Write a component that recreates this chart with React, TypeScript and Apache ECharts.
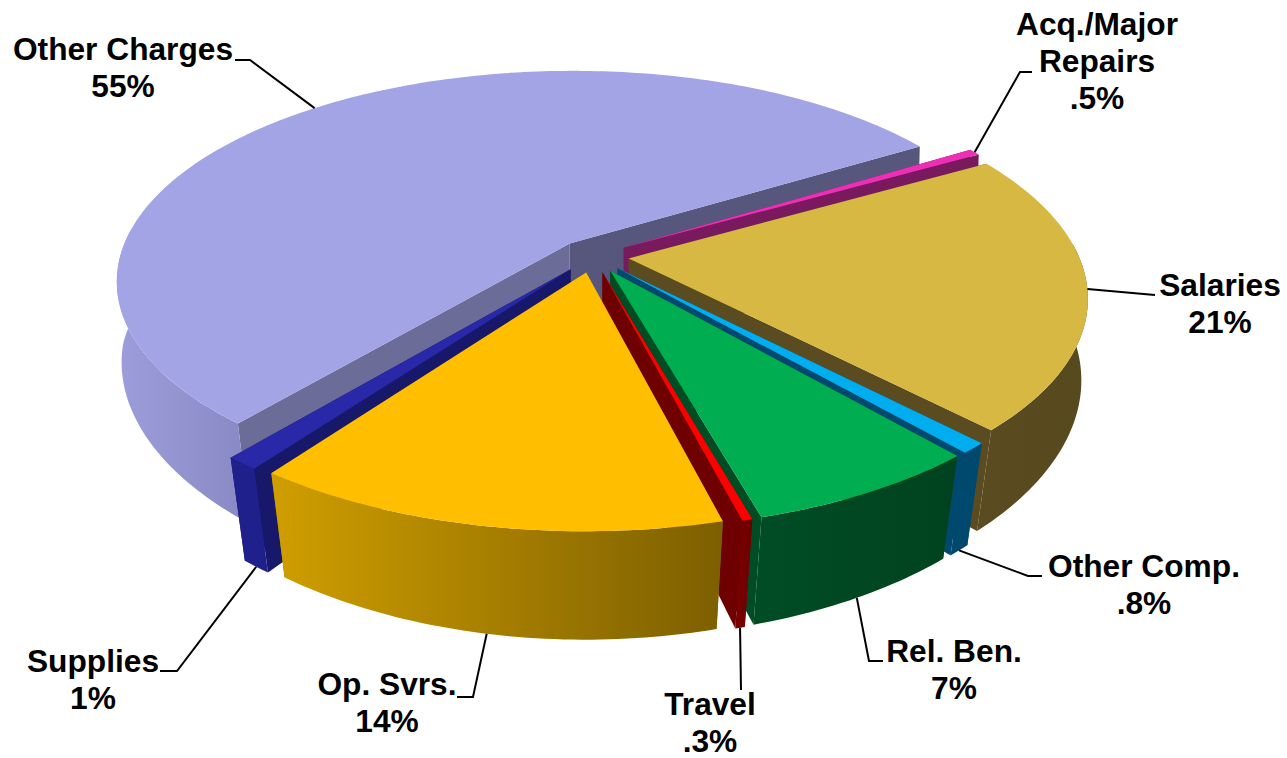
import React, { useEffect, useRef } from "react";
import * as echarts from "echarts";

const categories = ["Acq./Major\nRepairs", "Salaries", "Other Comp.", "Rel. Ben.", "Travel", "Op. Svrs.", "Supplies", "Other Charges"];
const values = [0.5, 21, 0.8, 7, 0.3, 14, 1, 55];
const topColors = ["#EC2FB5", "#D7B843", "#00ADEF", "#00AD50", "#FF0000", "#FFBF00", "#2828A8", "#A2A4E6"];
const edgeStartColors = ["#7A1A5E", "#5A4B20", "#00496E", "#004D25", "#6E0000", "#8A6A00", "#18186A", "#6C6C99"];
const edgeEndColors = ["#7A1A5E", "#5A4B20", "#00496E", "#004D25", "#6E0000", "#8A6A00", "#18186A", "#57577E"];
const wallFrom = ["#7A1A5E", "#5A4B20", "#00496E", "#004D25", "#7A0000", "#D09E00", "#20208C", "#9C9DDA"];
const wallTo = ["#7A1A5E", "#57491E", "#00496E", "#00421F", "#6E0000", "#7C5F00", "#20208C", "#8889C4"];
// label centre, leader (from text to the slice), per slice
const labelAt = [[1097, 61], [1220, 303], [1144, 584], [954, 669], [710, 722], [387, 702], [93, 679], [123, 67]];
const leaderFrom = [[1032, 72, 1020, 72], [1155, 295], [1042, 576, 1028, 576], [883, 661, 869, 661], [741, 690], [457, 697, 473, 697], [160, 671, 177, 671], [235, 60, 250, 60]];
const rimLevel = [0, 0, 1, 1, 1, 1, 1, 0];

const CX = 593, CY = 256, RX = 450, RY = 207, PERSP = 0.175, DEPTH = 88, SHRINK_BASE = 0.006, SHRINK_NEAR = 0.04, EXPLODE = 0.08, START = -31.5;

const total = values.reduce((a, b) => a + b, 0);
const slices = (() => {
  let a = START;
  return values.map((v) => {
    const a0 = a;
    const a1 = a + (v / total) * 360;
    a = a1;
    return { a0, a1, mid: (a0 + a1) / 2 };
  });
})();
const rad = (d: number) => (d * Math.PI) / 180;
const project = (u: number, v: number, z: number) => {
  const w = 1 - PERSP * v;
  const s = 1 - z * (SHRINK_BASE + SHRINK_NEAR * Math.max(v, 0));
  return [CX + (RX * u * s) / w, CY + (RY * v) / w + (z * DEPTH) / w];
};
const paintOrder = values.map((_, i) => i).sort((p, q) => Math.sin(rad(slices[p].mid)) - Math.sin(rad(slices[q].mid)));
const pctLabel = (v: number) => (v < 1 ? String(v).replace(/^0/, "") : String(v)) + "%";

function renderItem(_params: any, api: any) {
  const i = api.value(0);
  const { a0, a1, mid } = slices[i];
  const ox = EXPLODE * Math.cos(rad(mid));
  const oy = EXPLODE * Math.sin(rad(mid));
  const rim = (a: number, z: number) => project(ox + Math.cos(rad(a)), oy + Math.sin(rad(a)), z);
  const apex = (z: number) => project(ox, oy, z);
  const arc = (from: number, to: number, z: number) => {
    const pts = [];
    const n = Math.max(2, Math.ceil(Math.abs(to - from)));
    for (let k = 0; k <= n; k++) pts.push(rim(from + ((to - from) * k) / n, z));
    return pts;
  };
  const children: any[] = [];
  // radial cut faces
  children.push({
    type: "polygon",
    shape: { points: [apex(0), rim(a0, 0), rim(a0, 1), apex(1)] },
    style: { fill: edgeStartColors[i] },
  });
  children.push({
    type: "polygon",
    shape: { points: [apex(0), rim(a1, 0), rim(a1, 1), apex(1)] },
    style: { fill: edgeEndColors[i] },
  });
  // outer wall: the part of the rim facing the viewer
  const w0 = Math.max(a0, -4);
  const w1 = Math.min(a1, 184);
  if (w1 > w0) {
    children.push({
      type: "polygon",
      shape: { points: [...arc(w0, w1, 0), ...arc(w1, w0, 1)] },
      style: {
        fill: { type: "linear", x: 1, y: 0, x2: 0, y2: 0, colorStops: [{ offset: 0, color: wallTo[i] }, { offset: 1, color: wallFrom[i] }] },
      },
    });
  }
  // top
  children.push({
    type: "polygon",
    shape: { points: [apex(0), ...arc(a0, a1, 0)] },
    style: { fill: topColors[i] },
  });
  // leader
  const anchor = rim(mid, rimLevel[i]);
  const lf = leaderFrom[i];
  const leaderPts = [];
  for (let k = 0; k < lf.length; k += 2) leaderPts.push([lf[k], lf[k + 1]]);
  leaderPts.push(anchor);
  children.push({
    type: "polyline",
    shape: { points: leaderPts },
    style: { stroke: "#000", lineWidth: 2, fill: "none" },
    z2: 50,
  });
  children.push({
    type: "text",
    style: {
      text: categories[i] + "\n" + pctLabel(values[i]),
      x: labelAt[i][0],
      y: labelAt[i][1],
      align: "center",
      verticalAlign: "middle",
      font: 'bold 31.7px "Liberation Sans", Arial, sans-serif',
      lineHeight: 37,
      fill: "#000",
    },
    z2: 60,
  });
  return { type: "group", children };
}

export default function App() {
  const ref = useRef<HTMLDivElement>(null);
  useEffect(() => {
    document.body.style.margin = "0";
    const chart = echarts.init(ref.current!, null, { renderer: "svg" });
    chart.setOption({
      animation: false,
      backgroundColor: "#fff",
      series: [
        {
          type: "custom",
          coordinateSystem: "none",
          silent: true,
          renderItem,
          data: paintOrder.map((i) => [i]),
        },
      ],
    });
    return () => chart.dispose();
  }, []);
  return <div ref={ref} style={{ width: 1287, height: 758 }} />;
}
